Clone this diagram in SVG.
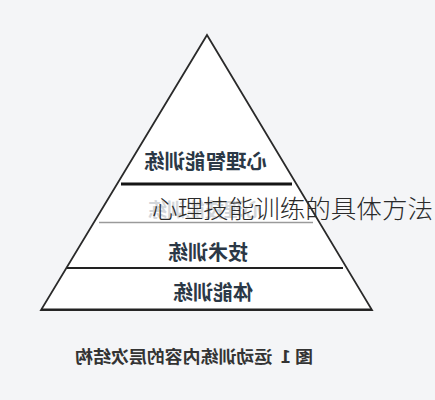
<svg xmlns="http://www.w3.org/2000/svg" width="435" height="400" viewBox="0 0 435 400">
<style>
.lbl{font-family:"Noto Sans CJK SC","Noto Sans",sans-serif;font-weight:bold;fill:#2b3846;text-anchor:middle}
.tier{font-size:20.5px}
.cap{font-size:16.5px;fill:#333}
.over{font-family:"Noto Sans CJK SC","Noto Sans",sans-serif;font-size:24.5px;font-weight:300;fill:#2a2a2a}
.faint{font-family:"Noto Sans CJK SC",sans-serif;font-size:19px;font-weight:bold;fill:#d3d6da;text-anchor:middle}
</style>
<rect width="435" height="400" fill="#f4f5f7"/>
<g id="pyramid">
<polygon points="207,35 41,310 372,310" fill="#ffffff" stroke="#2a2a2a" stroke-width="1.8" stroke-linejoin="miter"/>
</g>
<g id="connectors">
<line x1="121" y1="184" x2="292" y2="184" stroke="#151515" stroke-width="2.8"/>
<line x1="99" y1="222.5" x2="313" y2="222.5" stroke="#9a9a9a" stroke-width="1.6"/>
<line x1="67" y1="268" x2="343" y2="268" stroke="#222" stroke-width="2"/>
<line x1="41" y1="309.5" x2="372" y2="309.5" stroke="#222" stroke-width="2"/>
</g>
<g id="tier1">
<text class="lbl tier" x="205.5" y="168.5" textLength="123" lengthAdjust="spacingAndGlyphs" transform="matrix(-1 0 0 1 411 0)">心理智能训练</text>
</g>
<g id="tier2">
<text class="faint" x="205" y="217" transform="matrix(-1 0 0 1 410 0)">心理技能训练</text>
</g>
<g id="tier3">
<text class="lbl tier" x="208" y="259.5" textLength="80" lengthAdjust="spacingAndGlyphs" transform="matrix(-1 0 0 1 416 0)">技术训练</text>
</g>
<g id="tier4">
<text class="lbl tier" x="213" y="299.5" textLength="80" lengthAdjust="spacingAndGlyphs" transform="matrix(-1 0 0 1 426 0)">体能训练</text>
</g>
<g id="caption">
<text class="lbl cap" x="194" y="363" textLength="238" lengthAdjust="spacingAndGlyphs" transform="matrix(-1 0 0 1 388 0)" xml:space="preserve">图 1  运动训练内容的层次结构</text>
</g>
<g id="overlay">
<text class="over" x="152" y="218" textLength="281" lengthAdjust="spacingAndGlyphs">心理技能训练的具体方法</text>
</g>
</svg>
